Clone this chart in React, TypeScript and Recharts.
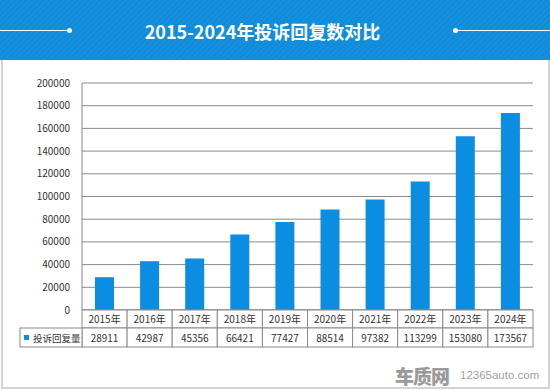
import React from 'react';
import { BarChart, Bar, XAxis, YAxis, CartesianGrid } from 'recharts';

const years = ['2015年', '2016年', '2017年', '2018年', '2019年', '2020年', '2021年', '2022年', '2023年', '2024年'];
const replies = [28911, 42987, 45356, 66421, 77427, 88514, 97382, 113299, 153080, 173567];
const yTicks = [0, 20000, 40000, 60000, 80000, 100000, 120000, 140000, 160000, 180000, 200000];

const seriesName = '投诉回复量';
const BLUE = '#0b8ee2';
const FONT = '"Noto Sans CJK SC", "Microsoft YaHei", sans-serif';
const PLOT_LEFT = 82;
const PLOT_RIGHT = 533;
const CELL = (PLOT_RIGHT - PLOT_LEFT) / years.length;

const data = years.map((year, i) => ({ year, value: replies[i] }));

function TableTick(props: any) {
  const { x, y, payload, index } = props;
  const v = replies[index];
  const r1 = 18;
  const r2 = 19;
  return (
    <g>
      <rect x={x - CELL / 2} y={y} width={CELL} height={r1} fill="#fff" stroke="#8a8a8a" />
      <rect x={x - CELL / 2} y={y + r1} width={CELL} height={r2} fill="#fff" stroke="#8a8a8a" />
      <text x={x} y={y + 13} textAnchor="middle" fontSize={10} fill="#333" fontFamily={FONT}>
        {payload.value}
      </text>
      <text x={x} y={y + r1 + 13.5} textAnchor="middle" fontSize={10} fill="#333" fontFamily={FONT}>
        {v}
      </text>
      {index === 0 && (
        <g>
          <rect x={20} y={y + r1} width={x - CELL / 2 - 20} height={r2} fill="#fff" stroke="#8a8a8a" />
          <rect x={24} y={y + r1 + 7} width={5} height={5} fill={BLUE} />
          <text x={33} y={y + r1 + 13.5} fontSize={9.5} fill="#333" fontFamily={FONT}>
            {seriesName}
          </text>
        </g>
      )}
    </g>
  );
}

export default function App() {
  return (
    <div style={{ position: 'absolute', left: 0, top: 0, width: 550, height: 390, background: '#fff', fontFamily: FONT, overflow: 'hidden' }}>
      <div
        style={{
          position: 'absolute', left: 0, top: 0, width: 550, height: 60,
          background: 'repeating-linear-gradient(135deg, #1590dd 0px, #1590dd 2px, #0f8bd9 2px, #0f8bd9 4px)',
        }}
      >
        <div style={{ position: 'absolute', left: 0, top: 30, width: 70, height: 1, background: '#fff' }} />
        <div style={{ position: 'absolute', left: 67, top: 28, width: 5, height: 5, borderRadius: 3, background: '#fff' }} />
        <div style={{ position: 'absolute', left: 455, top: 30, width: 95, height: 1, background: '#fff' }} />
        <div style={{ position: 'absolute', left: 453, top: 28, width: 5, height: 5, borderRadius: 3, background: '#fff' }} />
        <div style={{ position: 'absolute', left: 0, width: 525, top: 17, textAlign: 'center', color: '#fff', fontSize: 18, fontWeight: 700, lineHeight: '28px' }}>
          2015-2024年投诉回复数对比
        </div>
      </div>
      <div style={{ position: 'absolute', left: 1, top: 60, width: 545, height: 327, border: '2px solid #d4d4d4', borderTop: 'none' }} />
      <div style={{ position: 'absolute', left: 0, top: 0 }}>
        <BarChart width={550} height={390} data={data} margin={{ top: 83, right: 550 - PLOT_RIGHT, left: 0, bottom: 0 }}>
          <CartesianGrid vertical={false} stroke="#8a8a8a" />
          <YAxis
            width={PLOT_LEFT}
            domain={[0, 200000]}
            ticks={yTicks}
            interval={0}
            tickLine={false}
            axisLine={{ stroke: '#8a8a8a' }}
            tick={{ fill: '#333', fontSize: 10, fontFamily: FONT, dx: -4 }}
          />
          <XAxis
            dataKey="year"
            height={80}
            interval={0}
            tickLine={false}
            tickSize={0}
            tickMargin={0}
            axisLine={{ stroke: '#8a8a8a' }}
            tick={<TableTick />}
          />
          <Bar dataKey="value" fill={BLUE} barSize={19} isAnimationActive={false} />
        </BarChart>
      </div>
      <div style={{ position: 'absolute', left: 395, top: 362, color: '#9a9a9a', fontSize: 19, fontWeight: 900, letterSpacing: -1 }}>
        车质网
      </div>
      <div style={{ position: 'absolute', left: 460, top: 369, color: '#a0a0a0', fontSize: 11.5, fontFamily: '"Liberation Sans", Arial, sans-serif' }}>
        12365auto.com
      </div>
    </div>
  );
}
